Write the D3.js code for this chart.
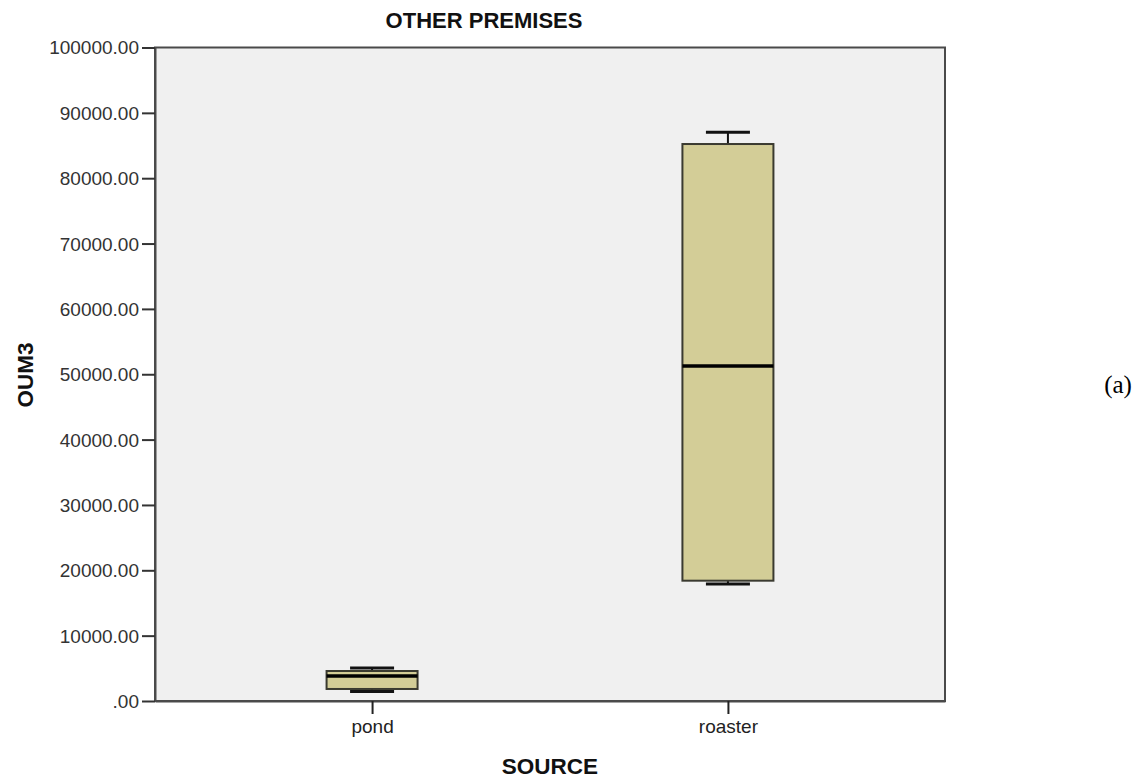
<!DOCTYPE html>
<html>
<head>
<meta charset="utf-8">
<script src="https://cdn.jsdelivr.net/npm/d3@7"></script>
<style>
  html, body { margin: 0; padding: 0; background: #ffffff; }
  svg { display: block; }
</style>
</head>
<body>
<svg id="chart" width="1140" height="778"></svg>
<script>
// ---- data ----
const categories   = ["pond", "roaster"];
const whiskerLow   = [1450, 17900];
const q1Values     = [1840, 18410];
const medianValues = [3830, 51260];
const q3Values     = [4590, 85230];
const whiskerHigh  = [5050, 87020];
const yTicks = [0, 10000, 20000, 30000, 40000, 50000, 60000, 70000, 80000, 90000, 100000];
const titleText = "OTHER PREMISES";
const xTitle = "SOURCE";
const yTitle = "OUM3";
const panelLabel = "(a)";

// ---- layout ----
const W = 1140, H = 778;
const plot = { left: 155, right: 945, top: 47.5, bottom: 701 };
const svg = d3.select("#chart");

const x = d3.scalePoint().domain(categories).range([plot.left, plot.right]).padding(0.61);
const y = d3.scaleLinear().domain([0, 100000]).range([plot.bottom, plot.top]);

const boxW = 91, capW = 44;
const fmt = v => { const s = d3.format(".2f")(v); return s.startsWith("0.") ? s.slice(1) : s; };

// plot background
svg.append("rect")
  .attr("x", plot.left).attr("y", plot.top)
  .attr("width", plot.right - plot.left).attr("height", plot.bottom - plot.top)
  .attr("fill", "#f0f0f0").attr("stroke", "#4a4a4a").attr("stroke-width", 2);

// y axis
const yAxis = svg.append("g")
  .attr("transform", `translate(${plot.left},0)`)
  .call(d3.axisLeft(y).tickValues(yTicks).tickFormat(fmt).tickSize(13).tickPadding(3).tickSizeOuter(0));
yAxis.select(".domain").attr("stroke", "#4a4a4a").attr("stroke-width", 2);
yAxis.selectAll(".tick line").attr("stroke", "#333").attr("stroke-width", 2);
yAxis.selectAll(".tick text")
  .attr("font-family", "Liberation Sans, Arial, sans-serif")
  .attr("font-size", 19).attr("fill", "#333").attr("dy", "0.34em");

// x axis
const xAxis = svg.append("g")
  .attr("transform", `translate(0,${plot.bottom})`)
  .call(d3.axisBottom(x).tickSize(13).tickPadding(6).tickSizeOuter(0));
xAxis.select(".domain").attr("stroke", "#4a4a4a").attr("stroke-width", 2);
xAxis.selectAll(".tick line").attr("stroke", "#222").attr("stroke-width", 2);
xAxis.selectAll(".tick text")
  .attr("font-family", "Liberation Sans, Arial, sans-serif")
  .attr("font-size", 19).attr("fill", "#222");

// boxes
const rows = categories.map((c, i) => ({
  c, lo: whiskerLow[i], q1: q1Values[i], med: medianValues[i], q3: q3Values[i], hi: whiskerHigh[i]
}));
const g = svg.append("g");
rows.forEach(d => {
  const cx = x(d.c);
  // whisker stems
  g.append("line").attr("x1", cx).attr("x2", cx).attr("y1", y(d.hi)).attr("y2", y(d.q3))
    .attr("stroke", "#111").attr("stroke-width", 2);
  g.append("line").attr("x1", cx).attr("x2", cx).attr("y1", y(d.q1)).attr("y2", y(d.lo))
    .attr("stroke", "#111").attr("stroke-width", 2);
  // caps
  g.append("line").attr("x1", cx - capW / 2).attr("x2", cx + capW / 2).attr("y1", y(d.hi)).attr("y2", y(d.hi))
    .attr("stroke", "#111").attr("stroke-width", 3);
  g.append("line").attr("x1", cx - capW / 2).attr("x2", cx + capW / 2).attr("y1", y(d.lo)).attr("y2", y(d.lo))
    .attr("stroke", "#111").attr("stroke-width", 3);
  // box
  g.append("rect").attr("x", cx - boxW / 2).attr("y", y(d.q3))
    .attr("width", boxW).attr("height", y(d.q1) - y(d.q3))
    .attr("fill", "#d3cd97").attr("stroke", "#3a3a30").attr("stroke-width", 2);
  // median
  g.append("line").attr("x1", cx - boxW / 2).attr("x2", cx + boxW / 2).attr("y1", y(d.med)).attr("y2", y(d.med))
    .attr("stroke", "#000").attr("stroke-width", 3.5);
});

// titles
svg.append("text").attr("x", 484).attr("y", 28).attr("text-anchor", "middle")
  .attr("font-family", "Liberation Sans, Arial, sans-serif").attr("font-weight", "bold")
  .attr("font-size", 22).attr("fill", "#111").text(titleText);
svg.append("text").attr("x", 550).attr("y", 774).attr("text-anchor", "middle")
  .attr("font-family", "Liberation Sans, Arial, sans-serif").attr("font-weight", "bold")
  .attr("font-size", 22.5).attr("fill", "#111").text(xTitle);
svg.append("text").attr("transform", "translate(33,375) rotate(-90)").attr("text-anchor", "middle")
  .attr("font-family", "Liberation Sans, Arial, sans-serif").attr("font-weight", "bold")
  .attr("font-size", 22.5).attr("fill", "#111").text(yTitle);
svg.append("text").attr("x", 1118).attr("y", 393).attr("text-anchor", "middle")
  .attr("font-family", "Liberation Serif, Times New Roman, serif")
  .attr("font-size", 25).attr("fill", "#000").text(panelLabel);
</script>
</body>
</html>
